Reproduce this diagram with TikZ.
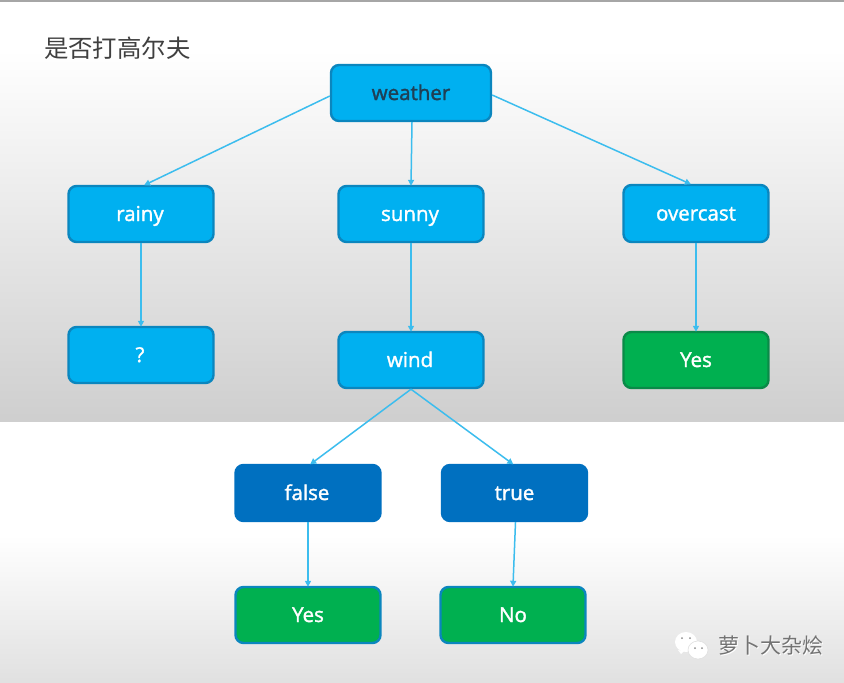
\documentclass[tikz,border=0pt]{standalone}
\usepackage{fontspec}
\setmainfont{Open Sans}[FakeBold=1.6]
\newfontfamily\cjk{Noto Sans CJK SC}
\usetikzlibrary{arrows.meta}
\definecolor{cyanfill}{HTML}{00B0F0}
\definecolor{cyanedge}{HTML}{0B86BE}
\definecolor{bluefill}{HTML}{0070C0}
\definecolor{greenfill}{HTML}{00B050}
\definecolor{greenedge}{HTML}{0A8A48}
\definecolor{linkcol}{HTML}{3CBDEE}
\tikzset{
  x=1pt, y=-1pt,
  boxbase/.style={rounded corners=8pt, line width=2.4pt, minimum width=145pt, minimum height=56pt,
    inner sep=0pt, text=white, text height=14pt, text depth=0pt,
    font=\fontsize{20.5}{24}\selectfont, anchor=center},
  cyanbox/.style={boxbase, fill=cyanfill, draw=cyanedge},
  darkbox/.style={boxbase, fill=bluefill, draw=bluefill},
  greenbox/.style={boxbase, fill=greenfill, draw=greenedge},
  greenblue/.style={boxbase, fill=greenfill, draw=cyanedge},
  link/.style={draw=linkcol, line width=1.5pt, -{Triangle[length=6pt,width=6pt]}, shorten >=-1pt},
}
\begin{document}
\begin{tikzpicture}
\useasboundingbox (0,0) rectangle (844,683);
% backdrop: two shaded bands
\fill[white] (0,0) rectangle (844,683);
\shade[top color=white, bottom color=black!19] (0,50) rectangle (844,421);
\shade[top color=white, bottom color=black!12] (0,535) rectangle (844,683);
\fill[black!35] (0,0) rectangle (844,1.6);
% heading
\node[anchor=west, text=black!75, inner sep=0pt, font=\cjk\fontsize{24.4}{28}\selectfont] (title) at (44,48) {是否打高尔夫};
% decision tree boxes
\node[cyanbox, minimum width=160pt] (weather) at (411,93) {\textcolor[HTML]{1F3F55}{weather}};
\node[cyanbox] (rainy) at (141,214) {\hspace{-2pt}rainy};
\node[cyanbox] (sunny) at (411,214) {\hspace{-2pt}sunny};
\node[cyanbox, minimum height=57pt] (overcast) at (696,213.5) {overcast};
\node[cyanbox] (unknown) at (141,355) {\hspace{-2pt}?};
\node[cyanbox] (wind) at (411,360) {\hspace{-2pt}wind};
\node[greenbox] (yesa) at (696,360) {Yes};
\node[darkbox] (false) at (308,493) {\hspace{-2pt}false};
\node[darkbox] (true) at (514.5,493) {true};
\node[greenblue] (yesb) at (308,615) {Yes};
\node[greenblue] (no) at (513,615) {No};
% connectors
\draw[link] ([yshift=-3pt]weather.west) -- ([xshift=4pt]rainy.north);
\draw[link] ([xshift=1pt]weather.south) -- (sunny.north);
\draw[link] ([yshift=-2pt]weather.east) -- ([xshift=-6pt]overcast.north);
\draw[link] (rainy.south) -- (unknown.north);
\draw[link] (sunny.south) -- (wind.north);
\draw[link] (overcast.south) -- (yesa.north);
\draw[link] (wind.south) -- ([xshift=3pt]false.north);
\draw[link] (wind.south) -- ([xshift=-2pt]true.north);
\draw[link] (false.south) -- (yesb.north);
\draw[link] ([xshift=1pt]true.south) -- (no.north);
% account mark in the lower corner
\fill[white] (686,642) ellipse (11pt and 10pt);
\fill[white] (678,650) -- (681,654) -- (684,651) -- cycle;
\fill[white, draw=black!12, line width=.6pt] (698,650) ellipse (10pt and 9pt);
\fill[black!45] (682,638) circle (1pt) (690,638) circle (1pt) (695,648) circle (1pt) (702,648) circle (1pt);
\node[anchor=west, inner sep=0pt, text=white, font=\cjk\fontsize{21}{25}\selectfont] (markshadow) at (719.6,647) {萝卜大杂烩};
\node[anchor=west, inner sep=0pt, text=black!55, font=\cjk\fontsize{21}{25}\selectfont] (mark) at (718,646) {萝卜大杂烩};
\end{tikzpicture}
\end{document}
